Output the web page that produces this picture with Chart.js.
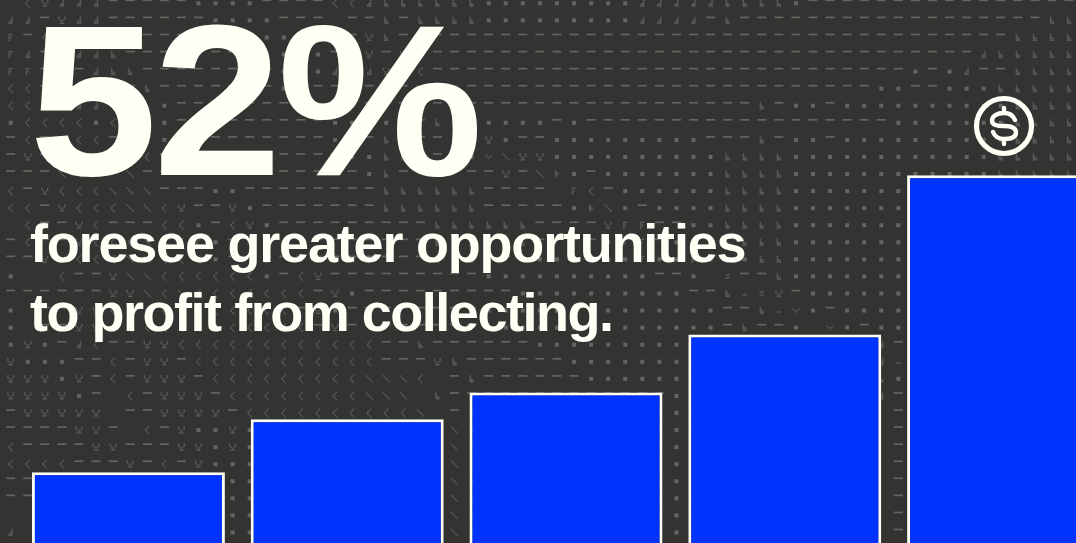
<!DOCTYPE html>
<html lang="en">
<head>
<meta charset="utf-8">
<title>52% foresee greater opportunities</title>
<script src="https://cdn.jsdelivr.net/npm/chart.js@4"></script>
<style>
    html, body {
        margin: 0;
        width: 1076px;
        height: 543px;
        overflow: hidden;
        background: #333331;
    }
    #chart {
        position: absolute;
        left: 0;
        top: 0;
    }
    .headline {
        position: absolute;
        margin: 0;
        color: #fffff5;
        font-family: "Liberation Sans", sans-serif;
        font-weight: 700;
        white-space: nowrap;
    }
    #big {
        left: 28.7px;
        top: 0;
        font-size: 216px;
        line-height: 200px;
        letter-spacing: -4px;
        transform: scaleX(1.07);
        transform-origin: left top;
    }
    #sub1, #sub2 {
        left: 30px;
        font-size: 54px;
        line-height: 60px;
    }
    #sub1 { top: 213px; letter-spacing: -1.2px; }
    #sub2 { top: 282px; letter-spacing: -1.48px; }
    #icon {
        position: absolute;
        left: 967.5px;
        top: 90px;
    }
</style>
</head>
<body>
<canvas id="chart" width="1120" height="543"></canvas>
<p class="headline" id="big">52%</p>
<p class="headline" id="sub1">foresee greater opportunities</p>
<p class="headline" id="sub2">to profit from collecting.</p>
<svg id="icon" width="72" height="72" viewBox="-36 -36 72 72" fill="none" stroke="#fffff5" stroke-linecap="round">
    <circle r="27.5" stroke-width="5.2"/>
    <path stroke-width="4.4" d="M11 -6C9 -11 5 -13 0 -13C-7 -13 -12 -10 -12 -5.5C-12 -1 -7 0 0 0C7 0 12 2 12 6.5C12 11 7 13 0 13C-5 13 -9 11 -11 6M0 -13V-18M0 13V18"/>
</svg>

<script>
const BAR_LABELS = ['Step 1', 'Step 2', 'Step 3', 'Step 4', 'Step 5'];
const BAR_VALUES = [10, 17.5, 21.3, 29.5, 52];
const AXIS_MAX = 76.8;

// Backdrop glyph map, one string per row, | only groups columns by ten
const TEXTURE_ROWS = [
    ' <vddd----|-....----<|<dbbbbbb..|.......ddd|ddbbbb.---|-------------',
    'dd-vdd----|--....--- |--b-bbbb..|.......ddd|d-b-------|-----------bb',
    'F-<-------|-----..---|-vb-------|----------|----------|---------bbbb',
    'Fd--ddb---|-----..-.-|-v-v------|----------|----------|-------dbbbbb',
    'FF---dbb--|------...d|-dv-<-----|----------|----------|---.-.d--bbbb',
    '<<------b-|------.---|----vvv---|----------|----------|-..--...bbbbb',
    '<<<<dd--b.|-------...|.---------|----------|----b-..-.|.........bbbb',
    '.<<<<.<...|---------.|.-.--b.v..|..-.------|----------|--.......bbbb',
    '-<--<<--d.|---------.|.-bb--bFv.|--........|.---b-..-.|.........bbbb',
    '-v------<-|----------|..bbb-b.us|vv........|..bbbb....|........bbbbb',
    '---ss--s--|----------|-.b------v|-sp.-.....|..bbbb....|........bbbbb',
    '<-v<<<sss-|--..------|--bbbbbb--|-- F<-....|..bbbb....|.............',
    '<<-v<<<ss<|v--v.-----|--bbbbbb--|---.ps.-..|..bbbb....|.............',
    ' <--v<---<|<.-<v.----|-----bbbbb|b----vFF--|..bbbb....|.............',
    '-<--v<<<ss|<<.-<v.---|-----bbbbb|b----.FF-.|..bbbb....|.............',
    '--vv<<<ss<|<<.--v----|-----bbbb-|.......F..|p...bb....|.............',
    '.  <--vss<|<<<<<.-<v-|--------..|........--|. :--b....|.............',
    '------vvs<|s<<<<<<<-v|.---------|..........|--b_:v-...|.............',
    '. --vv<<<<|<<<<<<<-v.|--------..|..........|..--b_u.-.|.............',
    '. --vv<<<<|<<<<<<<<-v|--------..|..........|..-b--. u.|-............',
    '.v.-d<--vv|<<<<<<<<<<|<<--b-----|-.........|..........|.d-..........',
    'v...--<-vv|-<<<<<<<<<|<<---vb---|---.......|..........|.d_..........',
    'vvv.v-<-vv|v-<<<<<<<<|<sss< -b--|----......|..........|.b...........',
    'vvvv.- <-v|vv-<<<<<<<|<sss b----|---------.|..........|.d-..........',
    '-vvvvv --v|vvv-<<<<<<|<<<<s -...|..........|..........|. -..........',
    '----vv- <-|v..v......|......s...|..........|..........|. -..........',
    '<----vv---|vv.v......|......s...|..........|..........|. -..........',
    '<<<<---v-<|-v........|......s...|..........|..........|. -..........',
    '--........|..........|......s...|..........|..........|. -..........',
    '--........|..........|......s...|..........|..........|. -..........',
    '  ........|..........|......s...|..........|..........|. -..........',
    'd ........|..........|......s...|..........|..........|. -..........'
];

const GLYPH_BITMAPS = {
    'v': ['x...x', 'x...x', '.x.x.', '..x..', '.xxx.'],
    '<': ['...x.', '..x..', '.x...', '.x...', '..x..', '...x.'],
    's': ['x....', '.x...', '..x..', '...x.', '....x'],
    'b': ['.x...', '.x...', '.xx..', '.xxx.', '.xxx.'],
    'd': ['...x.', '...x.', '..xx.', '.xxx.', '.xxx.'],
    'F': ['xxx', 'x..', 'xx.', 'x..', 'x..'],
    'p': ['x..', 'xx.', 'xxx', 'xx.', 'x..'],
    'u': ['x...x', '.x.x.', '..x..'],
    ':': ['xxx', '...', 'xxx'],
    '_': ['...', '...', 'xxx']
};

const texturePlugin = {
    id: 'texture',
    beforeDatasetsDraw(chart) {
        const ctx = chart.ctx;
        const pitch = 17.07;
        const unit = 1.45;
        ctx.save();
        ctx.fillStyle = '#333331';
        ctx.fillRect(0, 0, chart.width, chart.height);
        TEXTURE_ROWS.forEach((row, r) => {
            const cells = row.replace(/\|/g, '');
            for (let c = 0; c < cells.length; c++) {
                const ch = cells[c];
                const x = 10.7 + pitch * c;
                const y = 3.3 + pitch * r;
                if (ch === '.') {
                    ctx.fillStyle = '#646462';
                    ctx.fillRect(x - 2, y - 2, 4, 4);
                } else if (ch === '-') {
                    ctx.fillStyle = '#646462';
                    ctx.fillRect(x - 4.5, y - 3.8, 9, 1.7);
                } else if (GLYPH_BITMAPS[ch]) {
                    ctx.fillStyle = '#5c5c5a';
                    const rows = GLYPH_BITMAPS[ch];
                    rows.forEach((bits, by) => {
                        [...bits].forEach((bit, bx) => {
                            if (bit === 'x') {
                                ctx.fillRect(x + (bx - bits.length / 2) * unit, y + (by - rows.length / 2) * unit, unit, unit);
                            }
                        });
                    });
                }
            }
        });
        ctx.restore();
    }
};

new Chart(document.getElementById('chart'), {
    type: 'bar',
    data: {
        labels: BAR_LABELS,
        datasets: [{
            data: BAR_VALUES,
            backgroundColor: '#0033ff',
            borderColor: '#fffff5',
            borderWidth: 3,
            borderSkipped: 'bottom',
            barPercentage: 0.882,
            categoryPercentage: 1
        }]
    },
    options: {
        responsive: false,
        animation: false,
        layout: {
            padding: { left: 19, right: 7, top: 0, bottom: 0 }
        },
        plugins: {
            legend: { display: false },
            tooltip: { enabled: false }
        },
        scales: {
            x: { display: false },
            y: { display: false, min: 0, max: AXIS_MAX }
        }
    },
    plugins: [texturePlugin]
});
</script>
</body>
</html>
